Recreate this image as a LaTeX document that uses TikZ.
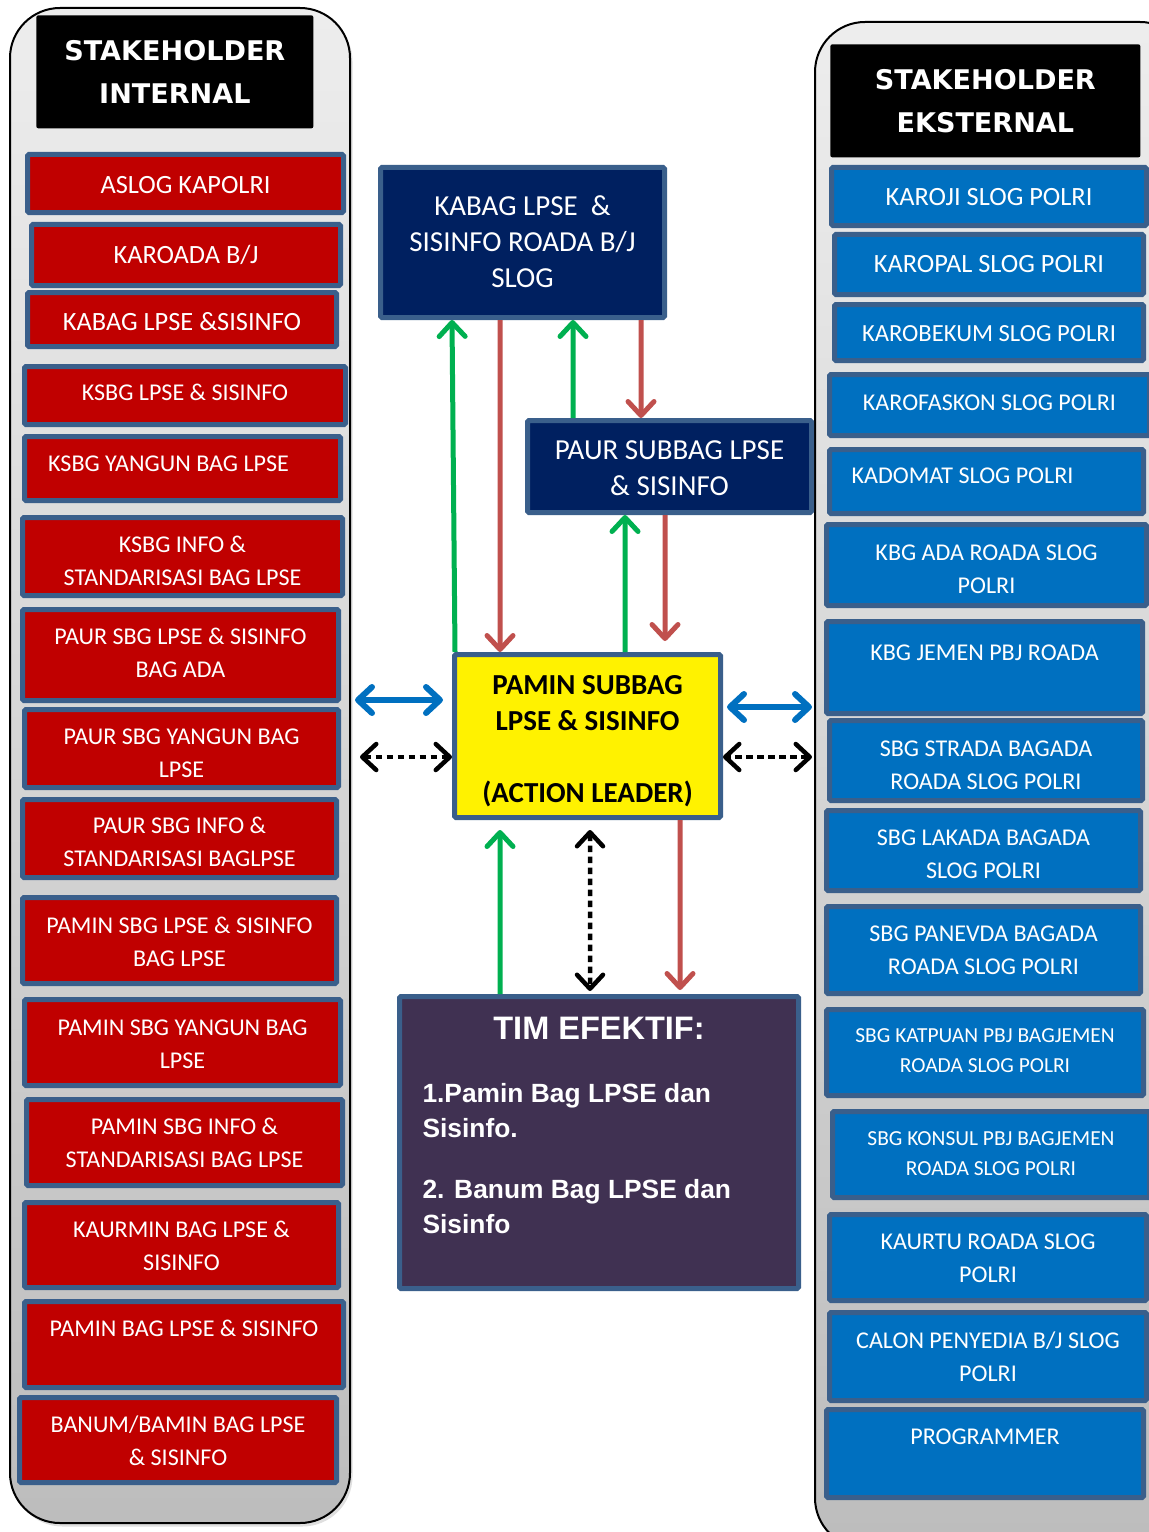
\documentclass[tikz,border=0pt]{standalone}
\usepackage{fontspec}
\setmainfont{Carlito}
\newfontfamily\headfont{DejaVu Sans}
\newfontfamily\arialfont{Liberation Sans}
\usetikzlibrary{arrows.meta,shadows}
\definecolor{intred}{HTML}{C00000}
\definecolor{extblue}{HTML}{0070C0}
\definecolor{edgeblue}{HTML}{3A5F8B}
\definecolor{navy}{HTML}{002060}
\definecolor{timpurple}{HTML}{403152}
\definecolor{arrowgreen}{HTML}{00B050}
\definecolor{arrowred}{HTML}{C0504D}
\definecolor{arrowblue}{HTML}{0070C0}
\begin{document}
\begin{tikzpicture}[x=0.2mm, y=-0.2mm,
  >={Straight Barb[round,length=2.8mm,width=5.2mm]},
  panel/.style={draw=black, line width=0.4mm, rounded corners=10mm, top color=black!7, bottom color=black!26,
    drop shadow={shadow xshift=0.5mm, shadow yshift=-0.7mm, opacity=0.25}},
  headbox/.style={fill=black, text=white, anchor=north west, inner sep=0pt, align=flush center, rounded corners=0.4mm,
    font=\headfont\bfseries\fontsize{15.4}{24.4}\selectfont},
  intbox/.style={draw=edgeblue, line width=1mm, rounded corners=0.3mm, fill=intred, text=white, anchor=north west,
    inner sep=0pt, align=flush center, font=\fontsize{13.7}{18.7}\selectfont},
  bigtext/.style={font=\fontsize{15}{18.7}\selectfont},
  extbox/.style={intbox, fill=extblue},
  navybox/.style={intbox, fill=navy, font=\fontsize{16.5}{20.4}\selectfont},
  grn/.style={->, draw=arrowgreen, line width=1mm},
  redarr/.style={->, draw=arrowred, line width=1mm},
  bluearr/.style={<->, draw=arrowblue, line width=1.2mm},
  dotarr/.style={<->, draw=black, line width=0.9mm, dash pattern=on 1.3mm off 0.9mm}]
\useasboundingbox (0,0) rectangle (1149,1532);
\clip (0,0) rectangle (1149,1532);

% stakeholder panels
\path[panel] (10,8) rectangle (350,1523);
\path[panel] (815,22) rectangle (1190,1548);

\node[headbox, text width=55.4mm, text height=9mm, text depth=13.6mm] (ihead) at (36,15) {STAKEHOLDER\\INTERNAL};
\node[headbox, text width=62mm, text height=9mm, text depth=13.6mm] (ehead) at (830,44) {STAKEHOLDER\\EKSTERNAL};

% internal
\node[intbox, bigtext, text width=63.2mm, text height=7.8mm, text depth=3.8mm] (i1) at (25,152) {ASLOG KAPOLRI};
\node[intbox, bigtext, text width=61.8mm, text height=7.8mm, text depth=4.4mm] (i2) at (29,222) {KAROADA B/J};
\node[intbox, bigtext, text width=61.8mm, text height=7.6mm, text depth=3.2mm] (i3) at (25,290) {KABAG LPSE \&SISINFO};
\node[intbox, text width=64.2mm, text height=6.8mm, text depth=4.8mm] (i4) at (22,364) {KSBG LPSE \& SISINFO};
\node[intbox, text width=63.2mm, text height=7.0mm, text depth=5.8mm] (i5) at (22,434) {KSBG YANGUN BAG LPSE\hspace*{5.6mm}};
\node[intbox, text width=64.0mm, text height=7.0mm, text depth=8.6mm] (i6) at (20,515) {KSBG INFO \&\\STANDARISASI BAG LPSE};
\node[intbox, text width=63.2mm, text height=7.0mm, text depth=11.2mm] (i7) at (20,607) {PAUR SBG LPSE \& SISINFO\\BAG ADA};
\node[intbox, text width=62.8mm, text height=7.0mm, text depth=8.6mm] (i8) at (22,707) {PAUR SBG YANGUN BAG\\LPSE};
\node[intbox, text width=62.8mm, text height=6.8mm, text depth=8.8mm] (i9) at (20,797) {PAUR SBG INFO \&\\STANDARISASI BAGLPSE};
\node[intbox, text width=62.8mm, text height=7.2mm, text depth=10mm] (i10) at (20,895) {PAMIN SBG LPSE \& SISINFO\\BAG LPSE};
\node[intbox, text width=63.2mm, text height=7.2mm, text depth=10mm] (i11) at (22,997) {PAMIN SBG YANGUN BAG\\LPSE};
\node[intbox, text width=63.2mm, text height=7.0mm, text depth=10.2mm] (i12) at (24,1097) {PAMIN SBG INFO \&\\STANDARISASI BAG LPSE};
\node[intbox, text width=62.8mm, text height=7.0mm, text depth=10mm] (i13) at (22,1200) {KAURMIN BAG LPSE \&\\SISINFO};
\node[intbox, text width=63.8mm, text height=7.0mm, text depth=10.2mm] (i14) at (22,1299) {PAMIN BAG LPSE \& SISINFO};
\node[intbox, text width=63.4mm, text height=7.0mm, text depth=10mm] (i15) at (17,1395) {BANUM/BAMIN BAG LPSE\\\& SISINFO};

% eksternal
\node[extbox, bigtext, text width=63.0mm, text height=7.6mm, text depth=4.0mm] (e1) at (829,165) {KAROJI SLOG POLRI};
\node[extbox, bigtext, text width=61.8mm, text height=7.6mm, text depth=4.4mm] (e2) at (832,232) {KAROPAL SLOG POLRI};
\node[extbox, font=\fontsize{14}{18.7}\selectfont, text width=61.8mm, text height=7.4mm, text depth=3.8mm] (e3) at (832,302) {KAROBEKUM SLOG POLRI};
\node[extbox, text width=64.0mm, text height=7.2mm, text depth=5.0mm] (e4) at (827,372) {KAROFASKON SLOG POLRI};
\node[extbox, text width=62.8mm, text height=6.8mm, text depth=6.0mm] (e5) at (827,447) {KADOMAT SLOG POLRI\hspace*{9.6mm}};
\node[extbox, text width=64.0mm, text height=7.2mm, text depth=9.0mm] (e6) at (824,522) {KBG ADA ROADA SLOG\\POLRI};
\node[extbox, text width=63.2mm, text height=7.8mm, text depth=10.6mm] (e7) at (824,619) {KBG JEMEN PBJ ROADA};
\node[extbox, text width=62.6mm, text height=7.2mm, text depth=8.8mm] (e8) at (827,718) {SBG STRADA BAGADA\\ROADA SLOG POLRI};
\node[extbox, text width=62.8mm, text height=7.0mm, text depth=9.0mm] (e9) at (824,808) {SBG LAKADA BAGADA\\SLOG POLRI};
\node[extbox, text width=62.8mm, text height=7.0mm, text depth=10.4mm] (e10) at (824,904) {SBG PANEVDA BAGADA\\ROADA SLOG POLRI};
\node[extbox, text width=63.4mm, text height=6.6mm, text depth=10.6mm, font=\fontsize{12.2}{17}\selectfont] (e11) at (824,1007) {SBG KATPUAN PBJ BAGJEMEN\\ROADA SLOG POLRI};
\node[extbox, text width=63.4mm, text height=6.8mm, text depth=10.4mm, font=\fontsize{12.2}{17}\selectfont] (e12) at (830,1109) {SBG KONSUL PBJ BAGJEMEN\\ROADA SLOG POLRI};
\node[extbox, text width=63.4mm, text height=7.0mm, text depth=10.2mm] (e13) at (827,1212) {KAURTU ROADA SLOG\\POLRI};
\node[extbox, text width=63.4mm, text height=7.2mm, text depth=10.4mm] (e14) at (827,1310) {CALON PENYEDIA B/J SLOG\\POLRI};
\node[extbox, text width=63.4mm, text height=7.0mm, text depth=10.6mm] (e15) at (824,1407) {PROGRAMMER};

% middle
\node[navybox, text width=56.8mm, text height=9.6mm, text depth=20.4mm] (kabag) at (378,165) {KABAG LPSE \ \&\\SISINFO ROADA B/J\\SLOG};
\node[navybox, text width=56.8mm, text height=7.8mm, text depth=10.6mm] (paur) at (525,418) {PAUR SUBBAG LPSE\\\& SISINFO};
\node[intbox, fill=yellow, text=black, text width=53.2mm, text height=8mm, text depth=24.6mm,
  font=\bfseries\fontsize{16.5}{20.4}\selectfont] (pamin) at (452,652) {PAMIN SUBBAG\\LPSE \& SISINFO\\[7.2mm](ACTION LEADER)};
\node[intbox, fill=timpurple, align=flush left, inner xsep=4.6mm, text width=70.6mm, text height=8.6mm, text depth=49.8mm,
  font=\arialfont\bfseries\fontsize{15}{19.8}\selectfont] (tim) at (397,994)
  {\makebox[\linewidth]{\fontsize{18.5}{22}\selectfont TIM EFEKTIF:}\\[5.6mm]
   1.Pamin Bag LPSE dan\\Sisinfo.\\[5.4mm]2. Banum Bag LPSE dan\\Sisinfo};

% alur
\draw[grn] ([xshift=0.6mm]pamin.north west) -- ([xshift=14.8mm]kabag.south west);
\draw[redarr] ([xshift=24.4mm]kabag.south west) -- ([xshift=9.6mm]pamin.north west);
\draw[grn] ([xshift=9.6mm]paur.north west) -- ([xshift=39mm]kabag.south west);
\draw[redarr] ([xshift=52.6mm]kabag.south west) -- ([xshift=23.2mm]paur.north west);
\draw[grn] ([xshift=34.6mm]pamin.north west) -- ([xshift=20mm]paur.south west);
\draw[redarr, shorten >=2.2mm] ([xshift=28mm]paur.south west) -- ([xshift=42.6mm]pamin.north west);
\draw[grn, shorten >=2mm] ([xshift=20.6mm]tim.north west) -- ([xshift=9.6mm]pamin.south west);
\draw[dotarr, shorten <=2mm, shorten >=0.6mm] ([xshift=27.6mm]pamin.south west) -- ([xshift=38.6mm]tim.north west);
\draw[redarr, shorten >=0.8mm] ([xshift=45.6mm]pamin.south west) -- ([xshift=56.6mm]tim.north west);

\coordinate (lblue) at (355,700);
\coordinate (ldot) at (360,757);
\coordinate (rblue) at (812,707);
\coordinate (rdot) at (812,757);
\draw[bluearr, shorten >=1.8mm] (lblue) -- (pamin.west |- lblue);
\draw[dotarr] (ldot) -- (pamin.west |- ldot);
\draw[bluearr, shorten >=0.8mm] (rblue) -- (pamin.east |- rblue);
\draw[dotarr] (rdot) -- (pamin.east |- rdot);
\end{tikzpicture}
\end{document}
